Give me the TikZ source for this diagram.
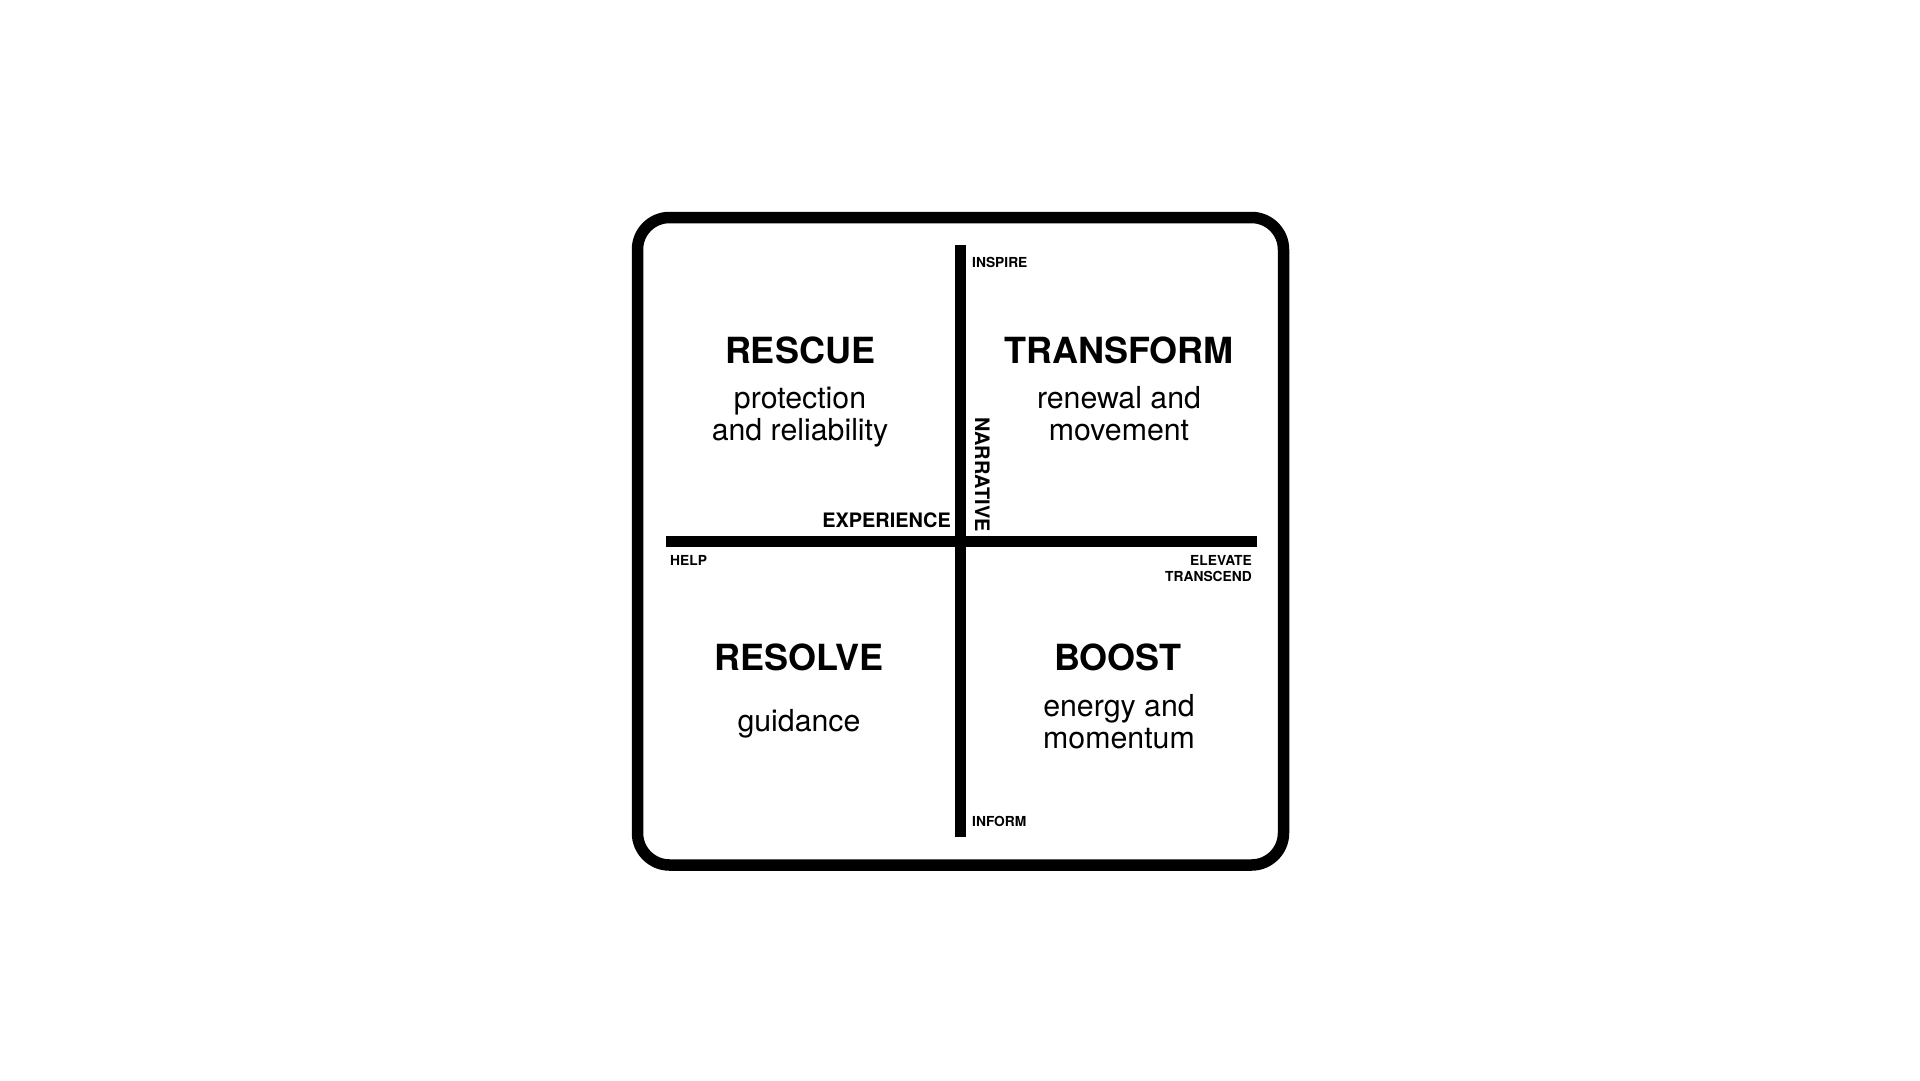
\documentclass[tikz,border=0pt]{standalone}
\usepackage{fontspec}
\setmainfont{TeX Gyre Heros}
\begin{document}
\begin{tikzpicture}[x=1pt,y=-1pt,
  frame/.style={line width=11.5pt, rounded corners=32pt},
  axis/.style={line width=11pt, line cap=butt},
  title/.style={font=\bfseries\fontsize{36}{38}\selectfont, inner sep=0pt, anchor=base},
  sub/.style={font=\fontsize{30.3}{32}\selectfont, inner sep=0pt, anchor=base},
  axlabel/.style={font=\bfseries\fontsize{19.9}{21}\selectfont, inner sep=0pt},
  pole/.style={font=\bfseries\fontsize{13.8}{15}\selectfont, inner sep=0pt}]
\useasboundingbox (0,0) rectangle (1920,1081);
\fill[white] (0,0) rectangle (1920,1081);
% frame
\draw[frame] (637.5,217.5) rectangle (1283.5,865);
% axes
\coordinate (vtop) at (960.5,245);
\coordinate (vbot) at (960.5,837);
\coordinate (hleft) at (666,541);
\coordinate (hright) at (1257,541);
\draw[axis] (vtop) -- (vbot);
\draw[axis] (hleft) -- (hright);
% quadrant texts
\node[title] (rescue) at (800,363.5) {RESCUE};
\node[sub] (rescue1) at (800,408) {protection};
\node[sub] (rescue2) at (800,440) {and reliability};
\node[title] (transform) at (1119,363.5) {TRANSFORM};
\node[sub] (transform1) at (1119,408) {renewal and};
\node[sub] (transform2) at (1119,440) {movement};
\node[title] (resolve) at (799,670) {RESOLVE};
\node[sub] (resolve1) at (799,731) {guidance};
\node[title] (boost) at (1118,670) {BOOST};
\node[sub] (boost1) at (1119,716) {energy and};
\node[sub] (boost2) at (1119,748) {momentum};
% axis labels
\node[axlabel, anchor=base east] (experience) at (951,527) {EXPERIENCE};
\node[axlabel, rotate=-90, anchor=base west] (narrative) at (975,417) {NARRATIVE};
\node[pole, anchor=base west] (inspire) at (972,267) {INSPIRE};
\node[pole, anchor=base west] (inform) at (972,826) {INFORM};
\node[pole, anchor=base west] (help) at (670,565) {HELP};
\node[pole, anchor=base east] (elevate) at (1252,565.5) {ELEVATE};
\node[pole, anchor=base east] (transcend) at (1252,581) {TRANSCEND};
\end{tikzpicture}
\end{document}
